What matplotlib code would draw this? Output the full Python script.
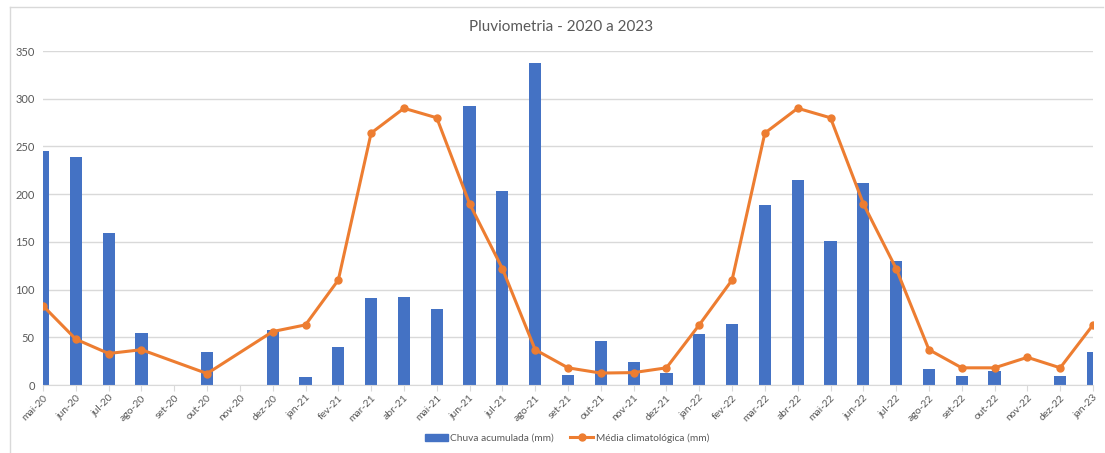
import numpy as np
import matplotlib.pyplot as plt
from matplotlib.lines import Line2D

plt.rcParams['font.family'] = ['Lato', 'DejaVu Sans']

months = ["mai-20", "jun-20", "jul-20", "ago-20", "set-20", "out-20", "nov-20", "dez-20",
          "jan-21", "fev-21", "mar-21", "abr-21", "mai-21", "jun-21", "jul-21", "ago-21",
          "set-21", "out-21", "nov-21", "dez-21", "jan-22", "fev-22", "mar-22", "abr-22",
          "mai-22", "jun-22", "jul-22", "ago-22", "set-22", "out-22", "nov-22", "dez-22",
          "jan-23"]

# chuva acumulada (mm)
chuva = [245, 239, 159, 54, 0, 35, 0, 58,
         8, 40, 91, 92, 80, 292, 203, 337,
         11, 46, 24, 13, 53, 64, 189, 215,
         151, 212, 130, 17, 9, 15, 0, 9,
         35]

# media climatologica (mm), None = sem valor
media = [83, 48, 33, 37, None, 12, None, 56,
         63, 110, 264, 290, 280, 190, 122, 37,
         18, 12.5, 13, 18, 63, 110, 264, 290,
         280, 190, 122, 37, 18, 18, 29, 18,
         63]

blue = "#4472C4"
orange = "#ED7D31"
txt = "#595959"
grid = "#D9D9D9"

fig = plt.figure(figsize=(11.05, 4.53), dpi=100)
ax = fig.add_axes([43 / 1105, 1 - 385 / 453, 1050 / 1105, 334 / 453])

x = np.arange(len(months))
ax.bar(x, chuva, width=0.37, color=blue, zorder=2, label="Chuva acumulada (mm)")

mx = [i for i, v in enumerate(media) if v is not None]
my = [v for v in media if v is not None]
ax.plot(mx, my, color=orange, lw=2.2, marker="o", ms=5, zorder=3,
        label="Média climatológica (mm)")

ax.set_xlim(0, len(months) - 1)
ax.set_ylim(0, 350)
ax.set_yticks(range(0, 351, 50))
ax.set_xticks(x)
ax.set_xticklabels(months, rotation=45, ha="right", rotation_mode="anchor")
ax.yaxis.grid(True, color=grid, lw=1, zorder=0)
ax.set_axisbelow(True)
for s in ["top", "right", "left"]:
    ax.spines[s].set_visible(False)
ax.spines["bottom"].set_color(grid)
ax.tick_params(axis="y", length=0, labelsize=8, labelcolor=txt, pad=6)
ax.tick_params(axis="x", length=4, color=grid, labelsize=7.5, labelcolor=txt, pad=2)

fig.text(0.508, 1 - 27 / 453, "Pluviometria - 2020 a 2023", ha="center", va="center",
         fontsize=11, color=txt)

handles = [plt.Rectangle((0, 0), 1, 1, color=blue),
           Line2D([], [], color=orange, lw=2.2, marker="o", ms=5)]
fig.legend(handles, ["Chuva acumulada (mm)", "Média climatológica (mm)"],
           loc="center", bbox_to_anchor=(0.513, 1 - 438 / 453), ncol=2, frameon=False,
           fontsize=7.3, labelcolor=txt, handlelength=2.3, handletextpad=0.2,
           columnspacing=1.6)

# moldura da area do grafico
fig.add_artist(Line2D([10 / 1105, 10 / 1105], [0, 1 - 7 / 453], transform=fig.transFigure,
                      color=grid, lw=1))
fig.add_artist(Line2D([10 / 1105, 1103 / 1105], [1 - 7 / 453, 1 - 7 / 453],
                      transform=fig.transFigure, color=grid, lw=1))

fig.savefig("out.png", dpi=100)
